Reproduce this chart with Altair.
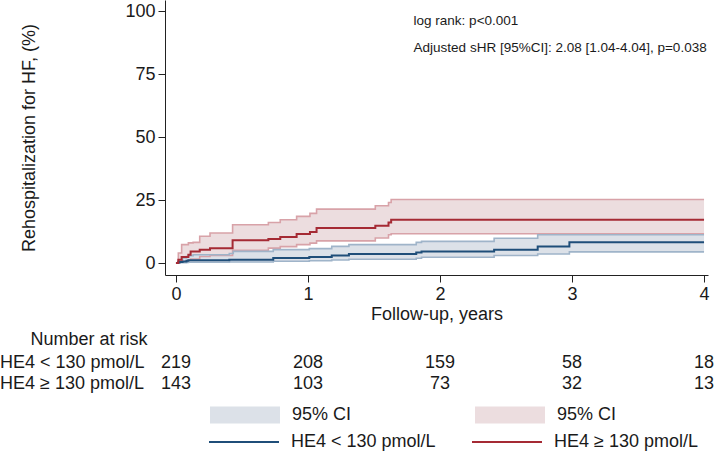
import altair as alt
import pandas as pd

# ---- data ----
# HE4 >= 130 pmol/L (red)
t_high = [0, 0.018, 0.043, 0.094, 0.111, 0.13, 0.18, 0.258, 0.429, 0.70, 0.79, 0.914, 1.015, 1.065, 1.51, 1.61, 1.63, 4.0]
est_high = [0, 1.3, 2.4, 3.3, 4.6, 4.6, 5.3, 5.9, 9.0, 9.5, 10.3, 11.5, 12.3, 13.9, 14.8, 16.1, 17.2, 17.2]
lo_high = [0, 0.3, 0.7, 1.2, 1.6, 1.6, 2.6, 3.0, 5.0, 5.9, 6.5, 7.3, 7.9, 8.8, 9.9, 11.2, 11.6, 11.6]
up_high = [0, 4.0, 7.3, 8.0, 8.0, 8.2, 10.6, 11.9, 15.2, 16.1, 17.2, 18.5, 19.7, 21.4, 22.7, 24.0, 25.2, 25.2]

# HE4 < 130 pmol/L (blue)
t_low = [0, 0.018, 0.03, 0.05, 0.08, 0.094, 0.13, 0.404, 0.434, 0.737, 1.01, 1.18, 1.31, 1.82, 1.86, 2.41, 2.74, 2.98, 4.0]
est_low = [0, 0.3, 0.4, 0.6, 0.9, 1.1, 1.1, 1.3, 1.3, 2.0, 2.4, 3.0, 3.6, 4.2, 4.6, 5.3, 6.6, 8.2, 8.2]
lo_low = [0, 0.0, 0.1, 0.1, 0.2, 0.3, 0.3, 0.4, 0.4, 0.7, 0.9, 1.2, 1.5, 1.9, 2.3, 3.0, 3.6, 4.4, 4.4]
up_low = [0, 1.0, 1.3, 2.0, 2.6, 2.9, 3.3, 3.8, 4.6, 5.3, 5.7, 6.6, 7.3, 8.2, 8.6, 9.8, 11.2, 11.2, 11.2]

group_names = ["HE4 < 130 pmol/L", "HE4 \u2265 130 pmol/L"]
ci_names = ["ci_low", "ci_high"]

risk_times = [0, 1, 2, 3, 4]
risk_low = [219, 208, 159, 58, 18]
risk_high = [143, 103, 73, 32, 13]

x_ticks = [0, 1, 2, 3, 4]
y_ticks = [0, 25, 50, 75, 100]

annot_lines = ["log rank: p<0.001", "Adjusted sHR [95%CI]: 2.08 [1.04-4.04], p=0.038"]
annot_y = [96, 85.3]

# ---- styling ----
FONT = "Liberation Sans"
RED = "#A52A34"
BLUE = "#1F4E79"
RED_FILL = "#ECDDDF"
BLUE_FILL = "#DCE1E8"
RED_EDGE = "#D8A2A8"
BLUE_EDGE = "#9FB4C9"
TXT = "#1a1a1a"

df_high = pd.DataFrame({"t": t_high, "est": est_high, "lo": lo_high, "up": up_high,
                        "grp": group_names[1], "ci": ci_names[1]})
df_low = pd.DataFrame({"t": t_low, "est": est_low, "lo": lo_low, "up": up_low,
                       "grp": group_names[0], "ci": ci_names[0]})

xscale = alt.Scale(domain=[-0.083, 4.03], nice=False, zero=False)
yscale = alt.Scale(domain=[-4.76, 104.4], nice=False, zero=False)

X = alt.X("t:Q", scale=xscale,
          axis=alt.Axis(values=x_ticks, title="Follow-up, years", grid=False, format="d"))
Y = alt.Y("lo:Q", scale=yscale,
          axis=alt.Axis(values=y_ticks, title="Rehospitalization for HF, (%)", grid=False, format="d"))

fill_enc = alt.Fill("ci:N",
                    scale=alt.Scale(domain=ci_names, range=[BLUE_FILL, RED_FILL]),
                    legend=alt.Legend(orient="none", legendX=45, legendY=380, direction="horizontal",
                                      columns=2, title=None, labelExpr="'95% CI'",
                                      symbolType="M-1,-0.24H1V0.24H-1Z", symbolSize=4900,
                                      symbolStrokeWidth=0, symbolOpacity=1, labelOffset=12,
                                      columnPadding=123, labelFontSize=18, labelFont=FONT,
                                      labelColor=TXT, padding=0))

stroke_enc = alt.Stroke("grp:N",
                        scale=alt.Scale(domain=group_names, range=[BLUE, RED]),
                        legend=alt.Legend(orient="none", legendX=43, legendY=406, direction="horizontal",
                                          columns=2, title=None, symbolType="stroke", symbolSize=4900,
                                          symbolStrokeWidth=2, labelOffset=11, columnPadding=32,
                                          labelFontSize=18, labelFont=FONT, labelColor=TXT,
                                          padding=0))


def band(df):
    return alt.Chart(df).mark_area(interpolate="step-after", opacity=1).encode(
        x=X, y=Y, y2="up:Q", fill=fill_enc)


def edge(df, field, color):
    return alt.Chart(df).mark_line(interpolate="step-after", strokeWidth=1.6).encode(
        x=X, y=alt.Y(f"{field}:Q", scale=yscale), stroke=alt.value(color))


def main_line(df):
    return alt.Chart(df).mark_line(interpolate="step-after", strokeWidth=2).encode(
        x=X, y=alt.Y("est:Q", scale=yscale), stroke=stroke_enc)


annot_df = pd.DataFrame({"text": annot_lines, "y": annot_y, "t": [1.80, 1.80]})
annot = alt.Chart(annot_df).mark_text(align="left", baseline="middle", fontSize=13.5, font=FONT,
                                      color=TXT).encode(
    x=alt.X("t:Q", scale=xscale), y=alt.Y("y:Q", scale=yscale), text="text:N")

risk_df1 = pd.DataFrame({"t": risk_times, "n": risk_low})
risk_df2 = pd.DataFrame({"t": risk_times, "n": risk_high})
risk1 = alt.Chart(risk_df1).mark_text(fontSize=18, font=FONT, color=TXT, baseline="middle").encode(
    x=alt.X("t:Q", scale=xscale), y=alt.value(363), text="n:Q")
risk2 = alt.Chart(risk_df2).mark_text(fontSize=18, font=FONT, color=TXT, baseline="middle").encode(
    x=alt.X("t:Q", scale=xscale), y=alt.value(384), text="n:Q")

lab_df = pd.DataFrame({"label": ["Number at risk"] + group_names, "row": [0, 1, 2]})
lab_title = alt.Chart(lab_df[lab_df.row == 0]).mark_text(fontSize=18, font=FONT, color=TXT,
                                                          align="center", baseline="middle").encode(
    x=alt.value(-76), y=alt.value(340), text="label:N")
lab_r1 = alt.Chart(lab_df[lab_df.row == 1]).mark_text(fontSize=18, font=FONT, color=TXT,
                                                       align="left", baseline="middle").encode(
    x=alt.value(-165), y=alt.value(363), text="label:N")
lab_r2 = alt.Chart(lab_df[lab_df.row == 2]).mark_text(fontSize=18, font=FONT, color=TXT,
                                                       align="left", baseline="middle").encode(
    x=alt.value(-165), y=alt.value(384), text="label:N")

chart = alt.layer(
    band(df_high), band(df_low),
    edge(df_high, "lo", RED_EDGE), edge(df_high, "up", RED_EDGE),
    edge(df_low, "lo", BLUE_EDGE), edge(df_low, "up", BLUE_EDGE),
    main_line(df_low), main_line(df_high),
    annot, risk1, risk2, lab_title, lab_r1, lab_r2,
).properties(
    width=543, height=275,
    autosize=alt.AutoSizeParams(type="none"),
    padding={"left": 165, "top": 0, "right": 8, "bottom": 180},
).configure_view(stroke=None).configure_axis(
    labelFont=FONT, titleFont=FONT, labelFontSize=18, titleFontSize=18,
    labelColor=TXT, titleColor=TXT, domainColor="#222222", tickColor="#222222",
    titleFontWeight="normal", tickSize=7, labelPadding=3,
).configure_axisY(titlePadding=86).configure_axisX(titlePadding=2)

chart.save("out.html", embed_options={"renderer": "svg", "actions": False})
